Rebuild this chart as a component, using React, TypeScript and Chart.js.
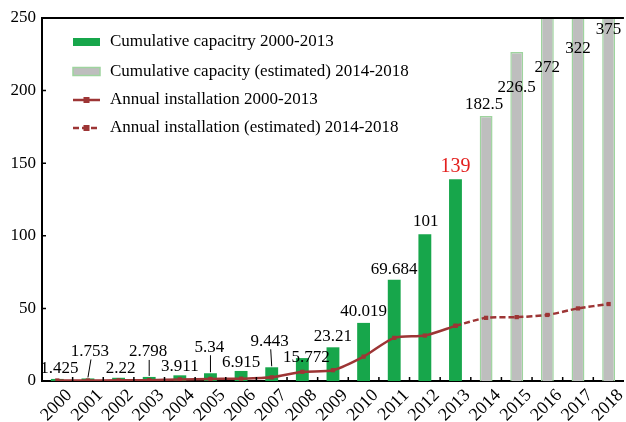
import React, { useEffect, useRef } from "react";
import { Chart, registerables } from "chart.js";

Chart.register(...registerables);

const years = [
  "2000", "2001", "2002", "2003", "2004", "2005", "2006", "2007", "2008", "2009",
  "2010", "2011", "2012", "2013", "2014", "2015", "2016", "2017", "2018",
];
const cumulativeActual = [
  1.425, 1.753, 2.22, 2.798, 3.911, 5.34, 6.915, 9.443, 15.772, 23.21,
  40.019, 69.684, 101, 139, null, null, null, null, null,
];
const cumulativeEstimated = [
  null, null, null, null, null, null, null, null, null, null,
  null, null, null, null, 182.5, 226.5, 272, 322, 375,
];
const annualActual = [
  0.35, 0.33, 0.47, 0.58, 1.11, 1.43, 1.58, 2.53, 6.33, 7.44,
  16.8, 29.7, 31.3, 38, null, null, null, null, null,
];
const annualEstimated = [
  null, null, null, null, null, null, null, null, null, null,
  null, null, null, 38, 43.5, 44, 45.5, 50, 53,
];
const yTicks = [0, 50, 100, 150, 200, 250];
const seriesLabels = [
  "Cumulative capacitry 2000-2013",
  "Cumulative capacity (estimated) 2014-2018",
  "Annual installation 2000-2013",
  "Annual installation (estimated) 2014-2018",
];

const FONT = "'Liberation Serif', 'Times New Roman', serif";
const GREEN = "#17a64b";
const GRAY = "#bebebe";
const GRAY_BORDER = "#9ed49e";
const RED_LINE = "#9d3535";

// label placement relative to bar top: [dx, dy, leader]
const labelLayout: [number, number, boolean][] = [
  [2, -10, false], [2, -27, true], [2, -9, false], [-1, -25, true], [0, -9, false],
  [-1, -26, true], [0, -8, false], [-2, -26, true], [4, -1, false], [0, -11, false],
  [0, -11, false], [0, -10, false], [1, -13, false], [0, -12, false], [-2, -11, false],
  [0, 35, false], [0, 50, false], [0, 31, false], [0, 12, false],
];

const decorPlugin = {
  id: "decor",
  afterDatasetsDraw(chart: any) {
    const ctx = chart.ctx;
    const area = chart.chartArea;
    const y = chart.scales.y;
    ctx.save();
    // frame top
    ctx.strokeStyle = "#000";
    ctx.lineWidth = 2;
    ctx.beginPath();
    ctx.moveTo(area.left, area.top);
    ctx.lineTo(area.right, area.top);
    ctx.stroke();
    // inward ticks
    ctx.lineWidth = 1.5;
    ctx.beginPath();
    yTicks.forEach((t) => {
      const py = y.getPixelForValue(t);
      ctx.moveTo(area.left, py);
      ctx.lineTo(area.left + 4, py);
    });
    const n = years.length;
    const cw = (area.right - area.left) / n;
    for (let i = 1; i < n; i++) {
      const px = area.left + i * cw;
      ctx.moveTo(px, area.bottom);
      ctx.lineTo(px, area.bottom - 4);
    }
    ctx.stroke();

    // value labels
    ctx.textAlign = "center";
    ctx.textBaseline = "middle";
    years.forEach((_, i) => {
      const actual = cumulativeActual[i];
      const dsIndex = actual != null ? 0 : 1;
      const value = actual != null ? actual : cumulativeEstimated[i];
      if (value == null) return;
      const el = chart.getDatasetMeta(dsIndex).data[i];
      const top = Math.max(el.y, area.top);
      const [dx, dy, leader] = labelLayout[i];
      const lx = el.x + dx;
      const ly = top + dy;
      const highlight = i === 13;
      ctx.font = `${highlight ? 20 : 17}px ${FONT}`;
      ctx.fillStyle = highlight ? "#e3201e" : "#000";
      ctx.fillText(String(value), lx, ly);
      if (leader) {
        ctx.strokeStyle = "#000";
        ctx.lineWidth = 1;
        ctx.beginPath();
        ctx.moveTo(lx + 1, ly + 8);
        ctx.lineTo(el.x, top - 1);
        ctx.stroke();
      }
    });

    // legend
    const rows = [42, 71.5, 100, 128];
    const bx = 73;
    const bw = 27;
    ctx.textAlign = "left";
    ctx.font = `17px ${FONT}`;
    chart.data.datasets.forEach((ds: any, i: number) => {
      const ry = rows[i];
      if (i === 0) {
        ctx.fillStyle = GREEN;
        ctx.fillRect(bx, ry - 4, bw, 8);
      } else if (i === 1) {
        ctx.fillStyle = GRAY;
        ctx.fillRect(bx, ry - 4, bw, 8);
        ctx.strokeStyle = GRAY_BORDER;
        ctx.lineWidth = 1.5;
        ctx.strokeRect(bx, ry - 4, bw, 8);
      } else {
        ctx.strokeStyle = RED_LINE;
        ctx.lineWidth = 2.5;
        ctx.setLineDash(i === 3 ? [6, 3] : []);
        ctx.beginPath();
        ctx.moveTo(bx, ry);
        ctx.lineTo(bx + bw, ry);
        ctx.stroke();
        ctx.setLineDash([]);
        ctx.fillStyle = RED_LINE;
        ctx.fillRect(bx + bw / 2 - 3, ry - 3, 6, 6);
      }
      ctx.fillStyle = "#000";
      ctx.fillText(ds.label, 110, ry);
    });
    ctx.restore();
  },
};

export default function App() {
  const ref = useRef<HTMLCanvasElement | null>(null);
  useEffect(() => {
    if (!ref.current) return;
    Chart.defaults.font.family = FONT;
    const lineBase = {
      type: "line" as const,
      borderColor: RED_LINE,
      backgroundColor: RED_LINE,
      borderWidth: 2.5,
      pointStyle: "rect" as const,
      pointRadius: 3,
      pointBackgroundColor: RED_LINE,
      pointBorderWidth: 0,
      tension: 0.25,
      order: 0,
      spanGaps: false,
    };
    const chart = new Chart(ref.current, {
      type: "bar",
      data: {
        labels: years,
        datasets: [
          {
            type: "bar",
            label: seriesLabels[0],
            data: cumulativeActual as any,
            backgroundColor: GREEN,
            borderWidth: 0,
            order: 1,
          },
          {
            type: "bar",
            label: seriesLabels[1],
            data: cumulativeEstimated as any,
            backgroundColor: GRAY,
            borderColor: GRAY_BORDER,
            borderWidth: 1.5,
            order: 1,
          },
          { ...lineBase, label: seriesLabels[2], data: annualActual as any },
          { ...lineBase, label: seriesLabels[3], data: annualEstimated as any, borderDash: [6, 3] },
        ] as any,
      },
      options: {
        animation: false,
        responsive: false,
        layout: { padding: { top: 18, left: 0, right: 0, bottom: 0 } },
        datasets: {
          bar: { barPercentage: 0.42, categoryPercentage: 1, grouped: false },
        } as any,
        plugins: {
          legend: { display: false },
          tooltip: { enabled: false },
        },
        scales: {
          x: {
            grid: { display: false, drawTicks: false },
            border: { display: true, color: "#000", width: 2 },
            ticks: {
              color: "#000",
              font: { size: 18, family: FONT },
              minRotation: 45,
              maxRotation: 45,
              padding: 4,
              labelOffset: 12,
              autoSkip: false,
            },
            afterFit: (s: any) => {
              s.height = 41;
            },
          },
          y: {
            min: 0,
            max: 250,
            grid: { display: false, drawTicks: false },
            border: { display: true, color: "#000", width: 2 },
            ticks: {
              stepSize: 50,
              color: "#000",
              font: { size: 17, family: FONT },
              padding: 6,
            },
            afterFit: (s: any) => {
              s.width = 42;
            },
          },
        },
      },
      plugins: [decorPlugin],
    });
    return () => chart.destroy();
  }, []);
  return (
    <div style={{ position: "fixed", left: 0, top: 0, width: 628, height: 422, background: "#fff" }}>
      <canvas ref={ref} width={628} height={422} style={{ display: "block" }} />
    </div>
  );
}
